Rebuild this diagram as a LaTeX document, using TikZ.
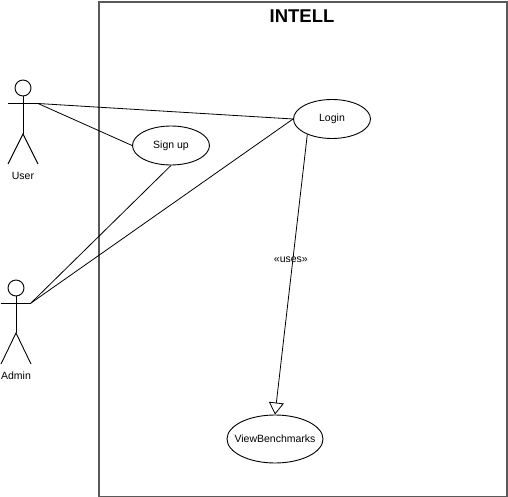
\documentclass[tikz,border=0pt]{standalone}
\usepackage{fontspec}
\setmainfont{Liberation Sans}
\usetikzlibrary{arrows.meta,shapes,positioning}

\begin{document}
\begin{tikzpicture}[
    x=1pt,y=1pt,
    usecase/.style={ellipse,draw,line width=0.9pt,inner xsep=-8pt,inner ysep=0pt,minimum width=77pt,minimum height=39pt,font=\fontsize{10.5}{12}\selectfont},
    head/.style={circle,draw,line width=0.9pt,inner sep=0pt,minimum size=16pt},
    actorlabel/.style={font=\fontsize{10.5}{12}\selectfont},
    limb/.style={line width=0.9pt},
    link/.style={line width=0.8pt},
    uses/.style={line width=0.8pt,-{Triangle[open,fill=white,length=12pt,width=15pt,line width=0.8pt]}}
]
    \useasboundingbox (0,0) rectangle (508,-497);

    % System boundary
    \node[draw=black!65,line width=1.6pt,inner sep=0pt,minimum width=408pt,minimum height=495pt,anchor=north west] (intell) at (98,-1) {};
    \node[font=\fontsize{18.5}{22}\selectfont\bfseries] (title) at (302,-16.5) {INTELL};

    % Use cases
    \node[usecase] (login) at (332,-119) {Login};
    \node[usecase] (signup) at (171,-145.5) {Sign up};
    \node[usecase,minimum width=96pt,minimum height=48pt] (view) at (275,-439) {ViewBenchmarks};

    % User actor
    \node[head] (userhead) at (23,-88) {};
    \coordinate (userleft) at (8,-103.5);
    \coordinate (userhand) at (38,-103.5);
    \coordinate (userhip) at (23,-134);
    \coordinate (userfootl) at (8,-164);
    \coordinate (userfootr) at (38,-164);
    \draw[limb] (userhead) -- (userhip);
    \draw[limb] (userleft) -- (userhand);
    \draw[limb] (userfootl) -- (userhip) -- (userfootr);
    \node[actorlabel] (userlabel) at (23,-175.5) {User};

    % Admin actor
    \node[head] (adminhead) at (16,-288) {};
    \coordinate (adminleft) at (0.5,-303);
    \coordinate (adminhand) at (31,-303);
    \coordinate (adminhip) at (16,-333);
    \coordinate (adminfootl) at (1,-364);
    \coordinate (adminfootr) at (31,-364);
    \draw[limb] (adminhead) -- (adminhip);
    \draw[limb] (adminleft) -- (adminhand);
    \draw[limb] (adminfootl) -- (adminhip) -- (adminfootr);
    \node[actorlabel] (adminlabel) at (16,-375.5) {Admin};

    % Relationships
    \draw[link] (userhand) -- (login.west);
    \draw[link] (userhand) -- (signup.west);
    \draw[link] (adminhand) -- (login.west);
    \draw[link] (adminhand) -- (signup.south);
    \draw[uses] (login.212) -- (view.north) node[pos=0.447,xshift=-2pt,inner sep=1pt,font=\fontsize{10.5}{12}\selectfont] (useslabel) {«uses»};
\end{tikzpicture}
\end{document}
